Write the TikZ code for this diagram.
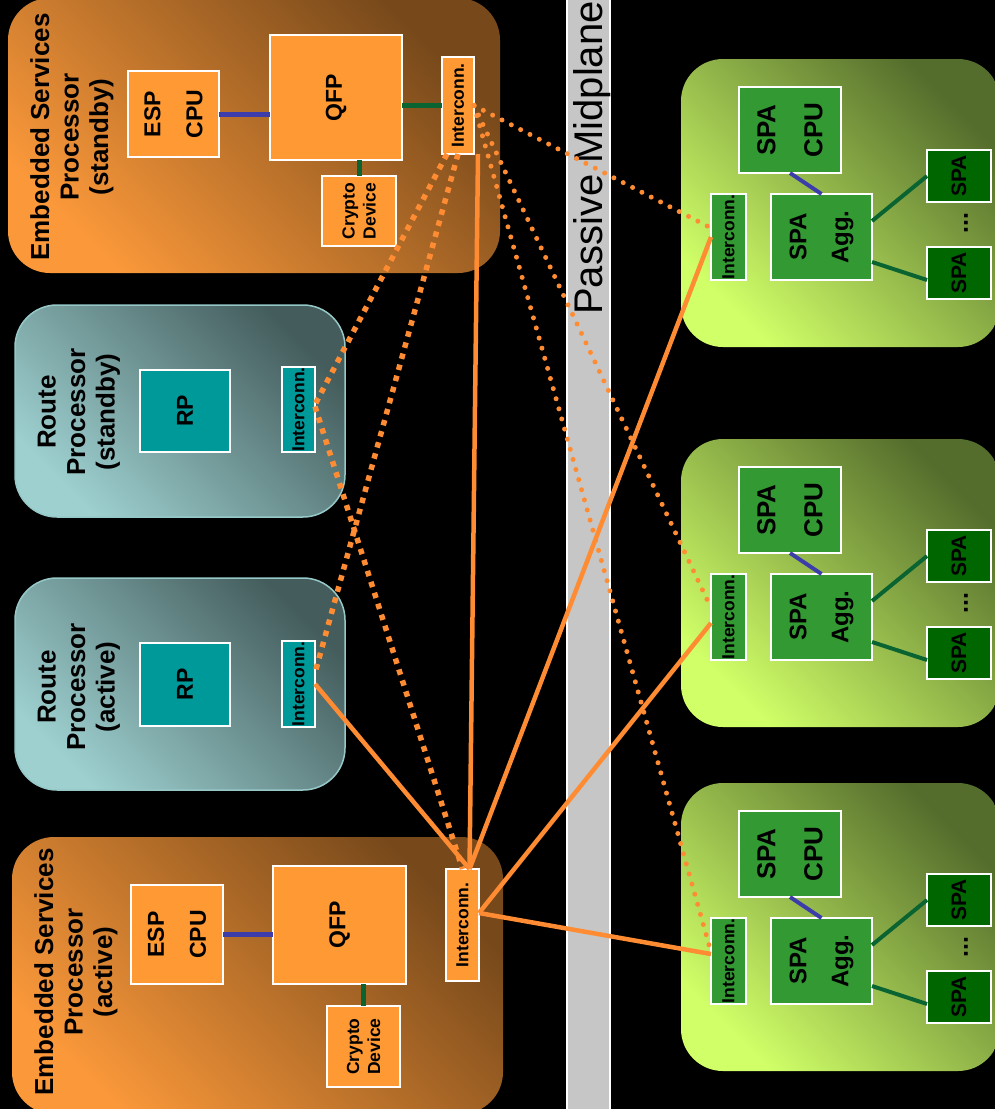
\documentclass[tikz,border=0pt]{standalone}
\usepackage{fontspec}
\setmainfont{Liberation Sans}
\usetikzlibrary{fit,calc}

\definecolor{espdark}{RGB}{118,72,26}
\definecolor{esplight}{RGB}{250,152,58}
\definecolor{espfill}{RGB}{255,153,51}
\definecolor{rpdark}{RGB}{68,92,92}
\definecolor{rplight}{RGB}{158,208,208}
\definecolor{rpedge}{RGB}{150,200,200}
\definecolor{rpfill}{RGB}{0,153,153}
\definecolor{spadark}{RGB}{84,108,44}
\definecolor{spalight}{RGB}{208,255,104}
\definecolor{spafill}{RGB}{51,153,51}
\definecolor{leaffill}{RGB}{0,102,0}
\definecolor{busblue}{RGB}{60,60,170}
\definecolor{busgreen}{RGB}{10,100,50}
\definecolor{linkor}{RGB}{255,140,50}
\definecolor{midgray}{RGB}{198,198,198}

% one block: name, box style, corners, text style, text
\newcommand{\blkbox}[8]{%
  \node[#2, fit={(#3,#4) (#5,#6)}] (#1) {};
  \node[#7] (#1-t) at (#1.center) {#8};}

\tikzset{
  card/.style={rounded corners=42pt, inner sep=0pt, outer sep=0pt},
  espcard/.style={card, top color=espdark, bottom color=esplight, shading angle=-45},
  rpcard/.style={card, top color=rpdark, bottom color=rplight, shading angle=-45, draw=rpedge, line width=1.5pt},
  spacard/.style={card, top color=spadark, bottom color=spalight, shading angle=-45},
  blk/.style={draw=white, line width=1.6pt, inner sep=0pt, outer sep=0pt},
  espblk/.style={blk, fill=espfill},
  rpblk/.style={blk, fill=rpfill},
  spablk/.style={blk, fill=spafill},
  leafblk/.style={blk, fill=leaffill},
  vtxt/.style={rotate=90, align=center, inner sep=0pt, text=black},
  bigtxt/.style={vtxt, font=\bfseries\fontsize{23pt}{42pt}\selectfont},
  aggtxt/.style={vtxt, font=\bfseries\fontsize{24pt}{42pt}\selectfont},
  widetxt/.style={vtxt, font=\bfseries\fontsize{26pt}{47pt}\selectfont},
  leaftxt/.style={vtxt, font=\bfseries\fontsize{21pt}{25pt}\selectfont},
  smalltxt/.style={vtxt, font=\bfseries\fontsize{17.5pt}{21pt}\selectfont},
  titletxt/.style={vtxt, font=\bfseries\fontsize{26pt}{29.5pt}\selectfont},
  bbus/.style={draw=busblue, line width=5pt},
  gbus/.style={draw=busgreen, line width=5pt},
  gthin/.style={draw=busgreen, line width=4pt},
  solidlink/.style={draw=linkor, line width=4.5pt},
  sqlink/.style={draw=linkor, line width=5.5pt, dash pattern=on 5.5pt off 6pt},
  rdlink/.style={draw=linkor, line width=5pt, line cap=round, dash pattern=on 0pt off 10.5pt},
}

\begin{document}
\begin{tikzpicture}[x=1pt, y=-1pt]
\useasboundingbox (0,0) rectangle (995,1109);
\fill[black] (0,0) rectangle (995,1109);

% passive midplane
\node[fill=midgray, draw=white, line width=1.5pt, inner sep=0pt, fit={(567,-5) (610,1115)}] (mid) {};
\node[rotate=90, anchor=base, inner sep=0pt, font=\fontsize{40pt}{48pt}\selectfont] (mid-t) at (602,158) {Passive Midplane};

% embedded services processor, standby
\node[espcard, fit={(8,-2) (500,273)}] (espS) {};
\node[titletxt] (espS-t) at (72,137) {Embedded Services\\Processor\\(standby)};
\blkbox{ecpuS}{espblk}{128}{71}{219}{157}{bigtxt}{ESP\\CPU}
\blkbox{qfpS}{espblk}{270}{35}{402}{160}{bigtxt}{QFP}
\blkbox{icS}{espblk}{442}{57}{474}{154}{smalltxt}{Interconn.}
\blkbox{cryS}{espblk}{322}{176}{396}{246}{smalltxt}{Crypto\\Device}
\draw[bbus] (ecpuS.east) -- (ecpuS.east -| qfpS.west);
\draw[gbus] (icS.west -| qfpS.east) -- (icS.west);
\draw[gbus] (cryS.north) -- (cryS.north |- qfpS.south);

% embedded services processor, active
\node[espcard, fit={(12,837) (503,1114)}] (espA) {};
\node[titletxt] (espA-t) at (76,972) {Embedded Services\\Processor\\(active)};
\blkbox{ecpuA}{espblk}{131}{885}{223}{984}{bigtxt}{ESP\\CPU}
\blkbox{qfpA}{espblk}{273}{866}{406}{984}{bigtxt}{QFP}
\blkbox{icA}{espblk}{446}{869}{479}{981}{smalltxt}{Interconn.}
\blkbox{cryA}{espblk}{327}{1006}{400}{1087}{smalltxt}{Crypto\\Device}
\draw[bbus] (ecpuA.east) -- (ecpuA.east -| qfpA.west);
\draw[gbus] ($(icA.west)+(0,-2)$ -| qfpA.east) -- ($(icA.west)+(0,-2)$);
\draw[gbus] (cryA.north) -- (cryA.north |- qfpA.south);

% route processors
\node[rpcard, fit={(15,305) (345,517)}] (rpS) {};
\node[titletxt] (rpS-t) at (79,412) {Route\\Processor\\(standby)};
\blkbox{rpbS}{rpblk}{140}{370}{230}{452}{bigtxt}{RP}
\blkbox{ricS}{rpblk}{282}{367}{315}{452}{smalltxt}{Interconn.}
\draw[bbus] ($(rpbS.east)+(0,-3)$) -- ($(rpbS.east)+(0,-3)$ -| ricS.west);

\node[rpcard, fit={(15,578) (345,790)}] (rpA) {};
\node[titletxt] (rpA-t) at (79,687) {Route\\Processor\\(active)};
\blkbox{rpbA}{rpblk}{140}{643}{230}{726}{bigtxt}{RP}
\blkbox{ricA}{rpblk}{282}{641}{315}{727}{smalltxt}{Interconn.}
\draw[bbus] ($(rpbA.east)+(0,-3)$) -- ($(rpbA.east)+(0,-3)$ -| ricA.west);

% shared port adapter cards
\foreach \k/\dy in {1/0,2/380,3/724}{
  \node[spacard, fit={(681,59+\dy) (1000,347+\dy)}] (spa\k) {};
  \blkbox{spacpu\k}{spablk}{739}{87+\dy}{841}{173+\dy}{widetxt}{SPA\\CPU}
  \blkbox{spaic\k}{spablk}{711}{194+\dy}{746}{280+\dy}{smalltxt}{Interconn.}
  \blkbox{spaagg\k}{spablk}{771}{194+\dy}{872}{280+\dy}{aggtxt}{SPA\\Agg.}
  \blkbox{leafa\k}{leafblk}{927}{150+\dy}{991}{202+\dy}{leaftxt}{SPA}
  \blkbox{leafb\k}{leafblk}{927}{247+\dy}{991}{299+\dy}{leaftxt}{SPA}
  \node[vtxt, font=\bfseries\fontsize{25pt}{28pt}\selectfont] (dots\k) at (966,223+\dy) {...};
  \draw[bbus, line width=4pt] (spacpu\k.south) -- (spaagg\k.north);
  \draw[gbus] ($(spaic\k.east)+(0,-2)$) -- ($(spaic\k.east)+(0,-2)$ -| spaagg\k.west);
  \draw[gthin] ($(spaagg\k.east)+(0,-16)$) -- (leafa\k.west);
  \draw[gthin] ($(spaagg\k.east)+(0,25)$) -- ($(leafb\k.west)+(0,7)$);
}

% links across the midplane
\coordinate (hubA) at ($(icA.north)+(7,0)$);
\coordinate (portA) at ($(icA.east)+(0,-12)$);

% standby ESP reaches every card through dotted paths
\draw[rdlink] (icS.east) -- ($(spaic1.west)+(0,-9)$);
\draw[rdlink] (icS.east) -- ($(spaic2.west)+(0,-9)$);
\draw[rdlink] (icS.east) -- ($(spaic3.west)+(0,-9)$);
\draw[sqlink] ($(icS.south)+(-11,0)$) -- ($(ricS.east)+(0,-5)$);
\draw[sqlink] (icS.south) -- ($(ricA.east)+(0,-11)$);
\draw[sqlink] ($(ricS.east)+(0,-3)$) -- (icA.north);

% active ESP links
\draw[solidlink] ($(icS.south east)+(4,0)$) -- (hubA);
\draw[solidlink] (ricA.east) -- (hubA);
\draw[solidlink] (hubA) -- (spaic1.west);
\draw[solidlink] (portA) -- ($(spaic2.west)+(0,6)$);
\draw[solidlink] (portA) -- ($(spaic3.west)+(0,-7)$);
\end{tikzpicture}
\end{document}
